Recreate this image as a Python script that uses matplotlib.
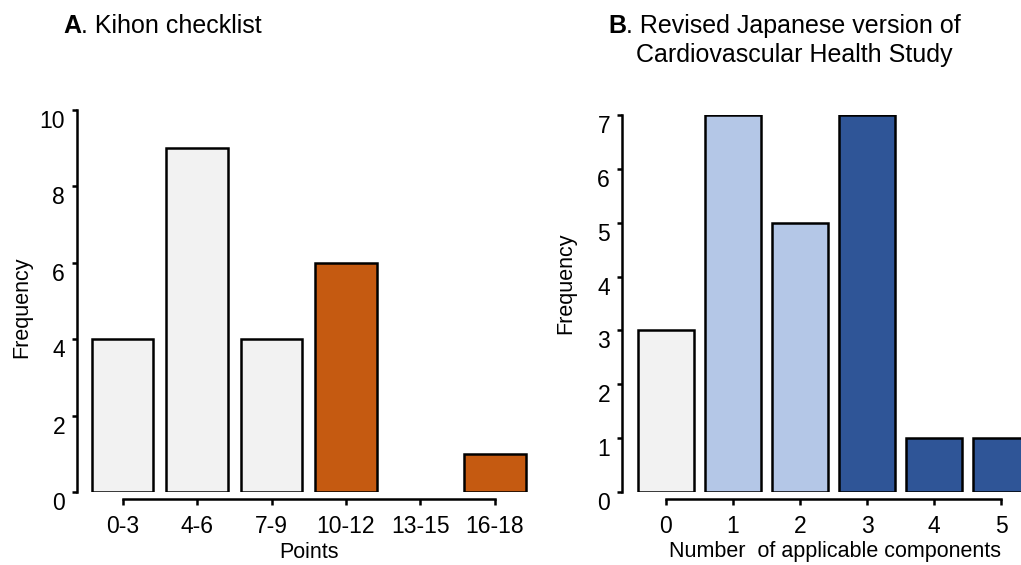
import matplotlib
matplotlib.use("Agg")
import matplotlib.pyplot as plt
import numpy as np

plt.rcParams['font.family'] = ['Liberation Sans', 'DejaVu Sans']

# Panel A: Kihon checklist score distribution
kihon_labels = ['0-3', '4-6', '7-9', '10-12', '13-15', '16-18']
kihon_freq = [4, 9, 4, 6, 0, 1]
kihon_colors = ['#f2f2f2', '#f2f2f2', '#f2f2f2', '#c55a11', '#c55a11', '#c55a11']

# Panel B: number of applicable CHS components
chs_labels = ['0', '1', '2', '3', '4', '5']
chs_freq = [3, 7, 5, 7, 1, 1]
chs_colors = ['#f2f2f2', '#b4c7e7', '#b4c7e7', '#2f5597', '#2f5597', '#2f5597']

W, H = 1021, 565
FS = 16.5
LFS = 15.5
fig = plt.figure(figsize=(W / 100, H / 100), dpi=100)


def fx(px):
    return px / W


def fy(py):
    return 1 - py / H


def make_axes(left_px, right_px, top_px, bottom_px):
    return fig.add_axes([fx(left_px), fy(bottom_px),
                         (right_px - left_px) / W, (bottom_px - top_px) / H])


def style_axes(ax, labels, ymax):
    for s in ('top', 'right'):
        ax.spines[s].set_visible(False)
    ax.spines['bottom'].set_position(('outward', 5))
    ax.spines['bottom'].set_bounds(0, len(labels) - 1)
    ax.spines['left'].set_bounds(0, ymax)
    for s in ('bottom', 'left'):
        ax.spines[s].set_linewidth(1.8)
        ax.spines[s].set_capstyle('projecting')
    ax.set_ylim(0, ymax)
    ax.set_xticks(np.arange(len(labels)))
    ax.set_xticklabels(labels)
    ax.tick_params(axis='x', length=4.5, width=1.8, pad=7, labelsize=FS)
    ax.tick_params(axis='y', length=3.6, width=1.8, pad=5, labelsize=FS)
    for lbl in ax.get_yticklabels():
        lbl.set_va('top')
    ax.patch.set_visible(False)


def draw_bars(ax, values, colors):
    x = np.arange(len(values))
    lw = [1.8 if v > 0 else 0 for v in values]
    ax.bar(x, values, width=0.83, color=colors, edgecolor='black',
           linewidth=lw, zorder=3)


# Panel A
axA = make_axes(77, 540, 110, 492)
draw_bars(axA, kihon_freq, kihon_colors)
axA.set_xlim((77 - 122.5) / 74.5, (540 - 122.5) / 74.5)
style_axes(axA, kihon_labels, 10)
axA.set_yticks([0, 2, 4, 6, 8, 10])

# Panel B (runs past the right edge of the figure)
axB = make_axes(622, 1050, 115, 492)
draw_bars(axB, chs_freq, chs_colors)
axB.set_xlim((622 - 666) / 67, (1050 - 666) / 67)
style_axes(axB, chs_labels, 7)
axB.set_yticks(np.arange(0, 8))

# Axis labels
fig.text(fx(309), fy(558), 'Points', ha='center', va='baseline', fontsize=LFS)
fig.text(fx(835), fy(557), 'Number  of applicable components', ha='center',
         va='baseline', fontsize=LFS)
fig.text(fx(22), fy(307), 'Frequency', rotation=90, ha='center', va='center',
         fontsize=LFS)
fig.text(fx(566), fy(283), 'Frequency', rotation=90, ha='center', va='center',
         fontsize=LFS)

# Panel titles: bold letter followed by regular text
renderer = fig.canvas.get_renderer()


def panel_title(x_px, base_px, letter, rest):
    t = fig.text(fx(x_px), fy(base_px), letter, fontweight='bold',
                 fontsize=18, ha='left', va='baseline')
    bb = t.get_window_extent(renderer=renderer)
    fig.text(bb.x1 / W, fy(base_px), rest, fontsize=18, ha='left',
             va='baseline')


panel_title(63, 33, 'A', '. Kihon checklist')
panel_title(608, 33, 'B', '. Revised Japanese version of')
fig.text(fx(636), fy(62), 'Cardiovascular Health Study', fontsize=18,
         ha='left', va='baseline')

fig.savefig('out.png', dpi=100)
